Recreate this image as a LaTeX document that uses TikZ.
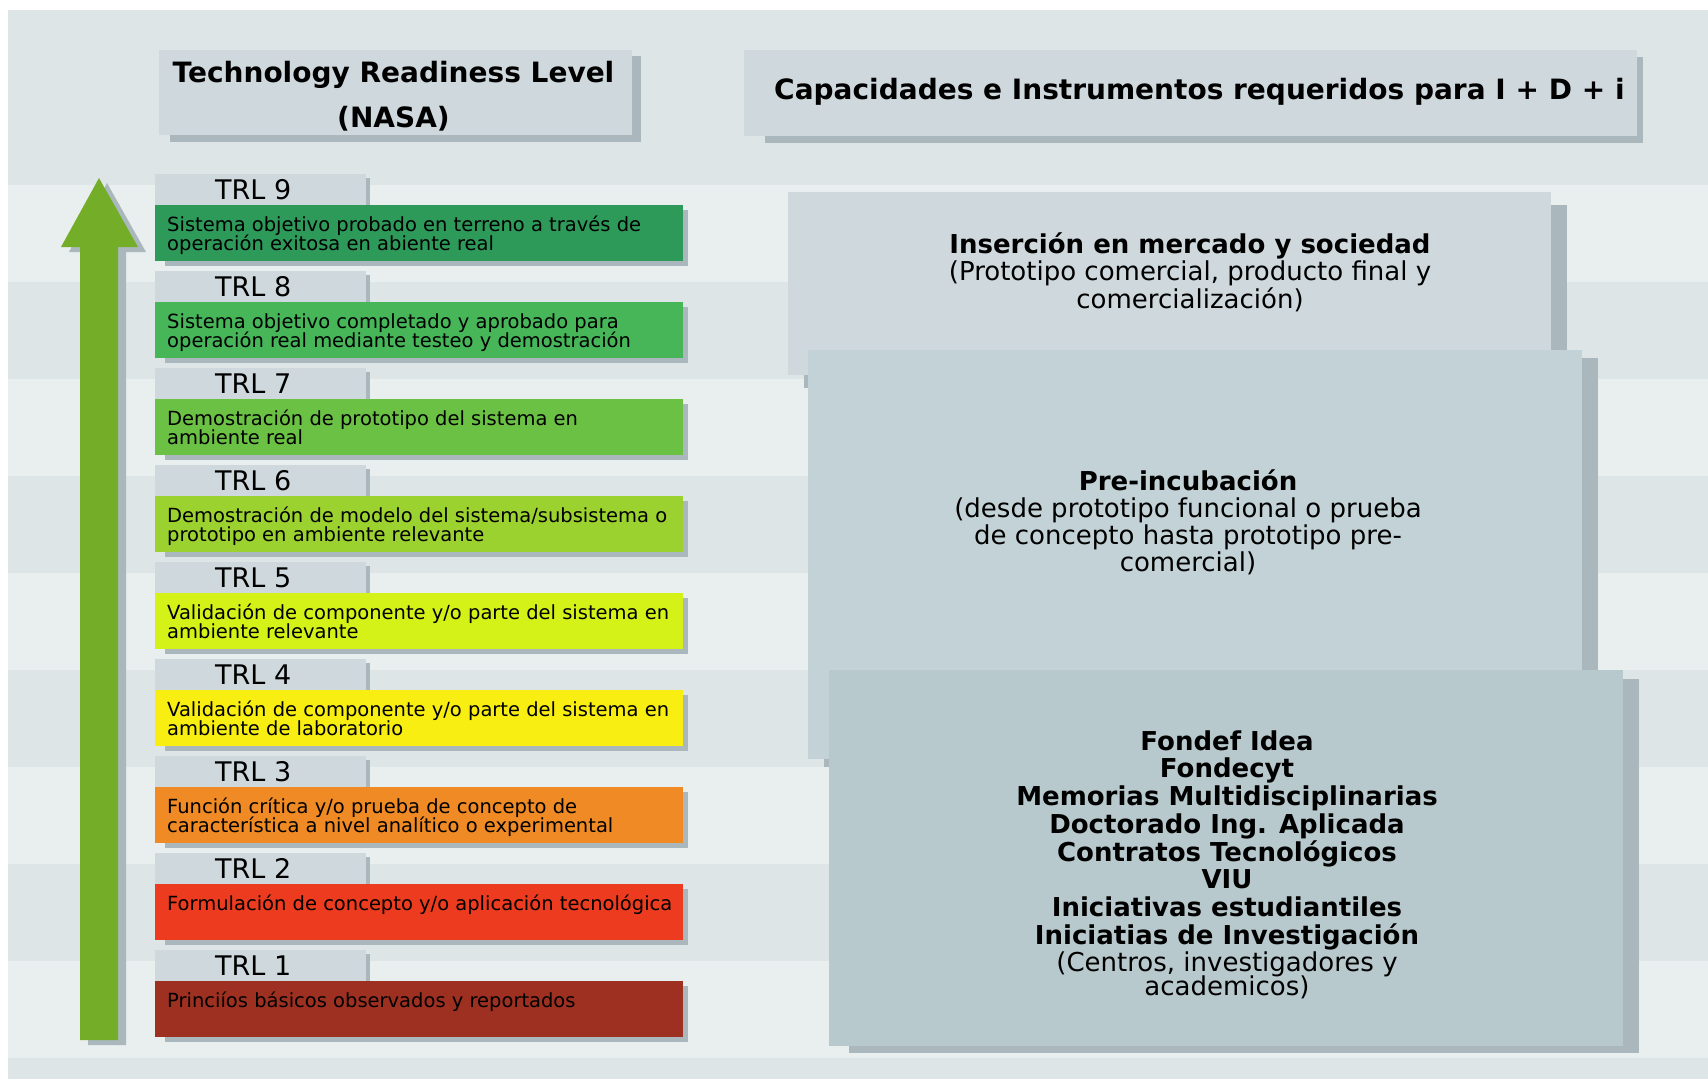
\documentclass[tikz,border=0pt]{standalone}
\usepackage{fontspec}
\setmainfont{DejaVu Sans}
\definecolor{bgdark}{HTML}{DEE5E7}
\definecolor{bglight}{HTML}{E9EEEF}
\definecolor{boxc}{HTML}{CFD9DD}
\definecolor{shdc}{HTML}{AAB8BD}
\definecolor{boxB}{HTML}{C3D2D6}
\definecolor{boxCc}{HTML}{B8C9CD}
\definecolor{arrowc}{HTML}{74AE29}
\definecolor{c9}{HTML}{2D9A5A}
\definecolor{c8}{HTML}{46B659}
\definecolor{c7}{HTML}{6BC144}
\definecolor{c6}{HTML}{9BD22F}
\definecolor{c5}{HTML}{D5F218}
\definecolor{c4}{HTML}{F8EE12}
\definecolor{c3}{HTML}{EF8A24}
\definecolor{c2}{HTML}{EC3B1F}
\definecolor{c1}{HTML}{9E3022}
\newcommand\CLines[1]{\vtop{\lineskiplimit=-100pt\lineskip=0pt\halign{\hfil##\hfil\cr#1\crcr}}}
\newcommand\LLines[1]{\vtop{\lineskiplimit=-100pt\lineskip=0pt\halign{##\hfil\cr#1\crcr}}}
\tikzset{
  shd/.style={fill=shdc},
  lbl/.style={inner sep=0, anchor=base west, font=\fontsize{27}{28}\selectfont},
  desc/.style={inner sep=0, anchor=base west, font=\fontsize{19.5}{19}\selectfont},
  ttl/.style={inner sep=0, font=\fontsize{28}{45}\selectfont\bfseries},
  rp/.style={inner sep=0, anchor=base, font=\fontsize{26}{27.5}\selectfont},
}
\begin{document}
\begin{tikzpicture}[x=1pt,y=-1pt]
\useasboundingbox (0,0) rectangle (1708,1079);
\fill[white] (0,0) rectangle (1708,1079);
% background bands
\fill[bgdark] (8,10) rectangle (1708,1079);
\foreach \j in {0,2,4,6,8}{
  \fill[bglight] (8,185+97*\j) rectangle (1708,282+97*\j);
}
% title boxes
\fill[shd] (170,56) rectangle (641,142);
\fill[boxc] (159,50) rectangle (632,135);
\fill[shd] (765,57) rectangle (1643,143);
\fill[boxc] (744,50) rectangle (1637,136);
\node[ttl, anchor=base] (titleA) at (393.5,82) {\CLines{Technology Readiness Level\cr(NASA)}};
\node[ttl, anchor=base west] (titleB) at (774,99) {Capacidades e Instrumentos requeridos para I + D + i};
% arrow
\def\arrowpath{(80,1040) -- (80,247) -- (61,247) -- (99,178) -- (138,247) -- (118,247) -- (118,1040) -- cycle}
\fill[shd, shift={(8,5)}] \arrowpath;
\fill[arrowc] \arrowpath;
% TRL levels
\foreach \n/\col in {9/c9,8/c8,7/c7,6/c6,5/c5,4/c4,3/c3,2/c2,1/c1}{
  \pgfmathsetmacro\ty{174+97*(9-\n)}
  \fill[shd] (160,\ty+4) rectangle (370,\ty+31);
  \fill[boxc] (155,\ty) rectangle (366,\ty+31);
  \fill[shd] (165,\ty+36) rectangle (688,\ty+92);
  \fill[\col] (155,\ty+31) rectangle (683,\ty+87);
  \node[lbl] (trl\n) at (215,\ty+25) {TRL \n};
  \coordinate (d\n) at (167,\ty+57.5);
}
\node[desc] (t9) at (d9) {\LLines{Sistema objetivo probado en terreno a través de\cr operación exitosa en abiente real}};
\node[desc] (t8) at (d8) {\LLines{Sistema objetivo completado y aprobado para\cr operación real mediante testeo y demostración}};
\node[desc] (t7) at (d7) {\LLines{Demostración de prototipo del sistema en\cr ambiente real}};
\node[desc] (t6) at (d6) {\LLines{Demostración de modelo del sistema/subsistema o\cr prototipo en ambiente relevante}};
\node[desc] (t5) at (d5) {\LLines{Validación de componente y/o parte del sistema en\cr ambiente relevante}};
\node[desc] (t4) at (d4) {\LLines{Validación de componente y/o parte del sistema en\cr ambiente de laboratorio}};
\node[desc] (t3) at (d3) {\LLines{Función crítica y/o prueba de concepto de\cr característica a nivel analítico o experimental}};
\node[desc] (t2) at (d2) {Formulación de concepto y/o aplicación tecnológica};
\node[desc] (t1) at (d1) {Princiíos básicos observados y reportados};
% right panel boxes
\fill[shd] (804,205) rectangle (1567,388);
\fill[boxc] (788,192) rectangle (1551,375);
\fill[shd] (824,358) rectangle (1598,767);
\fill[boxB] (808,350) rectangle (1582,759);
\fill[shd] (849,679) rectangle (1639,1053);
\fill[boxCc] (829,670) rectangle (1623,1046);
\node[rp] (mercado) at (1190,253) {\CLines{\bfseries Inserción en mercado y sociedad\cr(Prototipo comercial, producto final y\cr comercialización)}};
\node[rp, font=\fontsize{26}{27.3}\selectfont] (preinc) at (1188,490) {\CLines{\bfseries Pre-incubación\cr(desde prototipo funcional o prueba\cr de concepto hasta prototipo pre-\cr comercial)}};
\node[rp, font=\fontsize{26}{27.75}\selectfont\bfseries] (fondos) at (1227,750) {\CLines{Fondef Idea\cr Fondecyt\cr Memorias Multidisciplinarias\cr Doctorado Ing. Aplicada\cr Contratos Tecnológicos\cr VIU\cr Iniciativas estudiantiles\cr Iniciatias de Investigación}};
\node[rp, font=\fontsize{26}{24}\selectfont] (centros) at (1227,971) {\CLines{(Centros, investigadores y\cr academicos)}};
\end{tikzpicture}
\end{document}
